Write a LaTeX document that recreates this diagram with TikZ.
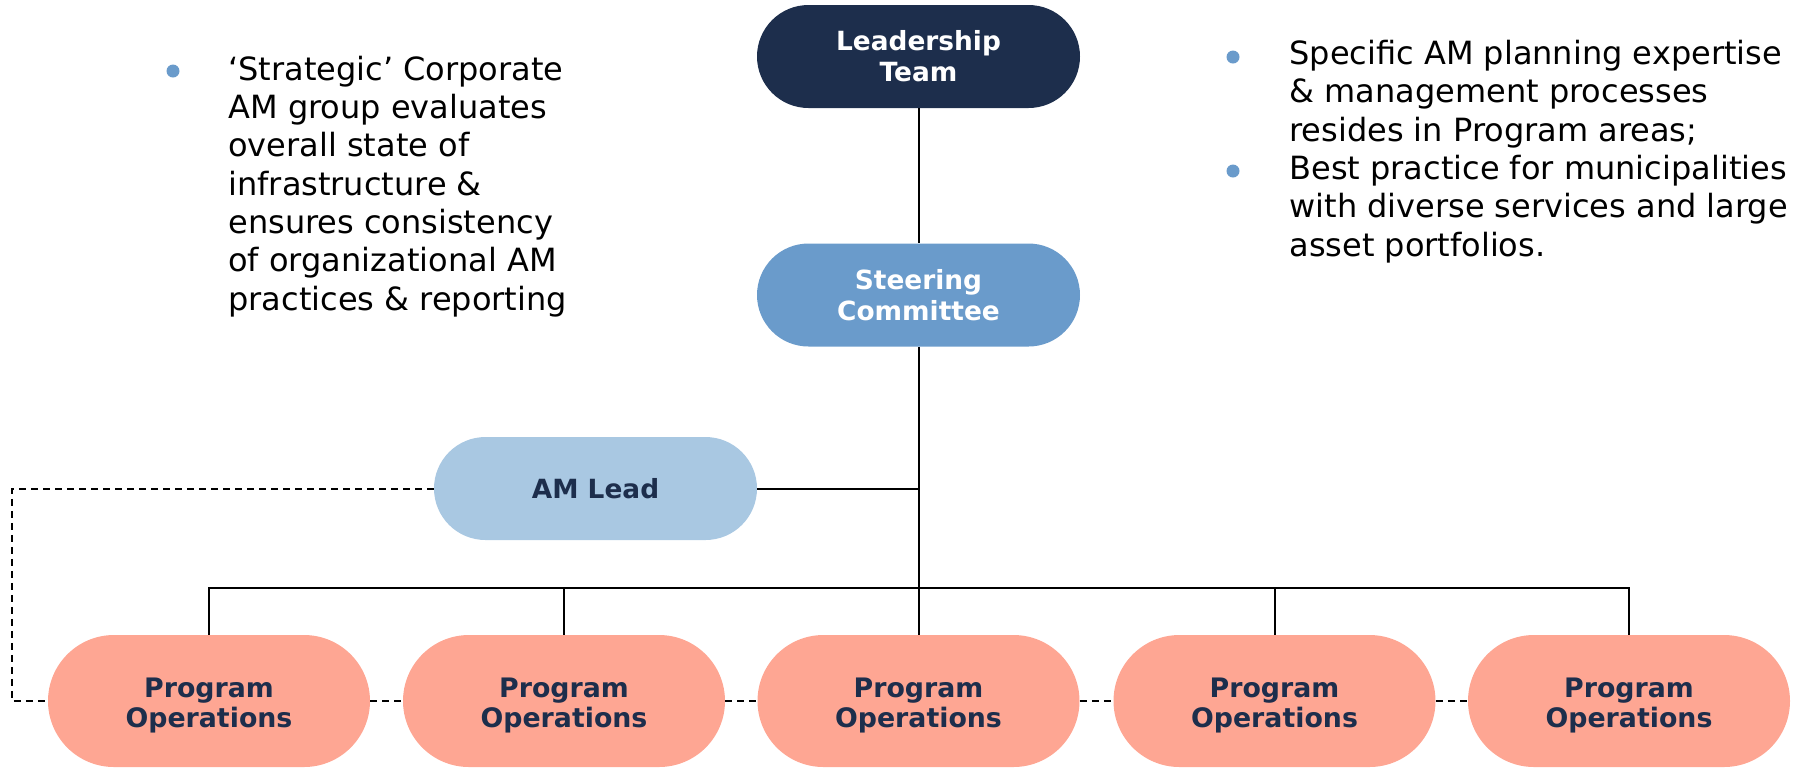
\documentclass[tikz,border=0pt]{standalone}
\usepackage{fontspec}
\setmainfont{DejaVu Sans}
\definecolor{navy}{HTML}{1D2E4C}
\definecolor{steel}{HTML}{6A9BCB}
\definecolor{lightsteel}{HTML}{A9C8E2}
\definecolor{salmon}{HTML}{FEA693}
\newcommand{\progtext}{\rule{0pt}{14.5pt}Program\\Operations}
\begin{document}
\begin{tikzpicture}[x=0.5pt,y=-0.5pt,
  pill/.style={rounded corners=25.75pt, minimum width=161.5pt, minimum height=51.5pt,
    inner sep=0pt, align=center, font=\bfseries\fontsize{13.2}{15.5}\selectfont},
  prog/.style={rounded corners=33pt, minimum width=161pt, minimum height=66pt,
    inner sep=0pt, align=center, fill=salmon, text=navy,
    font=\bfseries\fontsize{13.4}{15}\selectfont},
  conn/.style={line width=1pt, black},
  dashconn/.style={line width=1pt, black, dash pattern=on 3.5pt off 2.5pt},
  bullettext/.style={anchor=base west, align=left, inner sep=0pt,
    font=\fontsize{16}{19.15}\selectfont},
  dot/.style={fill=steel}]
\useasboundingbox (0,0) rectangle (1796,768);

\node[pill, fill=navy, text=white] (lt) at (918.5,56.5) {Leadership\\Team};
\node[pill, fill=steel, text=white] (sc) at (918.5,295) {Steering\\Committee};
\node[pill, fill=lightsteel, text=navy] (am) at (595.5,488.5) {AM Lead};

\node[prog] (p1) at (209,701) {\progtext};
\node[prog] (p2) at (564,701) {\progtext};
\node[prog] (p3) at (918.5,701) {\progtext};
\node[prog] (p4) at (1274.5,701) {\progtext};
\node[prog] (p5) at (1629,701) {\progtext};

\coordinate (bus) at (918.5,588);
\coordinate (dl) at (12,490);

\draw[conn] (lt.south) -- (sc.north);
\draw[conn] (sc.south) -- (p3.north);
\draw[conn] (am.east) -- (am.east -| sc.south);
\draw[conn] (p1.north) -- (p1.north |- bus) -- (p5.north |- bus) -- (p5.north);
\draw[conn] (p2.north) -- (p2.north |- bus);
\draw[conn] (p4.north) -- (p4.north |- bus);

\draw[dashconn] (am.west) -- (am.west -| dl) -- (dl |- p1.west) -- (p1.west);
\draw[dashconn] (p1.east) -- (p2.west);
\draw[dashconn] (p2.east) -- (p3.west);
\draw[dashconn] (p3.east) -- (p4.west);
\draw[dashconn] (p4.east) -- (p5.west);

\fill[dot] (173,71) circle (3.25pt);
\node[bullettext] (t1) at (228,310) {‘Strategic’ Corporate\\AM group evaluates\\overall state of\\infrastructure \&\\ensures consistency\\of organizational AM\\practices \& reporting};

\fill[dot] (1233,57) circle (3.25pt);
\fill[dot] (1233,171) circle (3.25pt);
\node[bullettext] (t2) at (1289,256) {Specific AM planning expertise\\\& management processes\\resides in Program areas;\\Best practice for municipalities\\with diverse services and large\\asset portfolios.};
\end{tikzpicture}
\end{document}
